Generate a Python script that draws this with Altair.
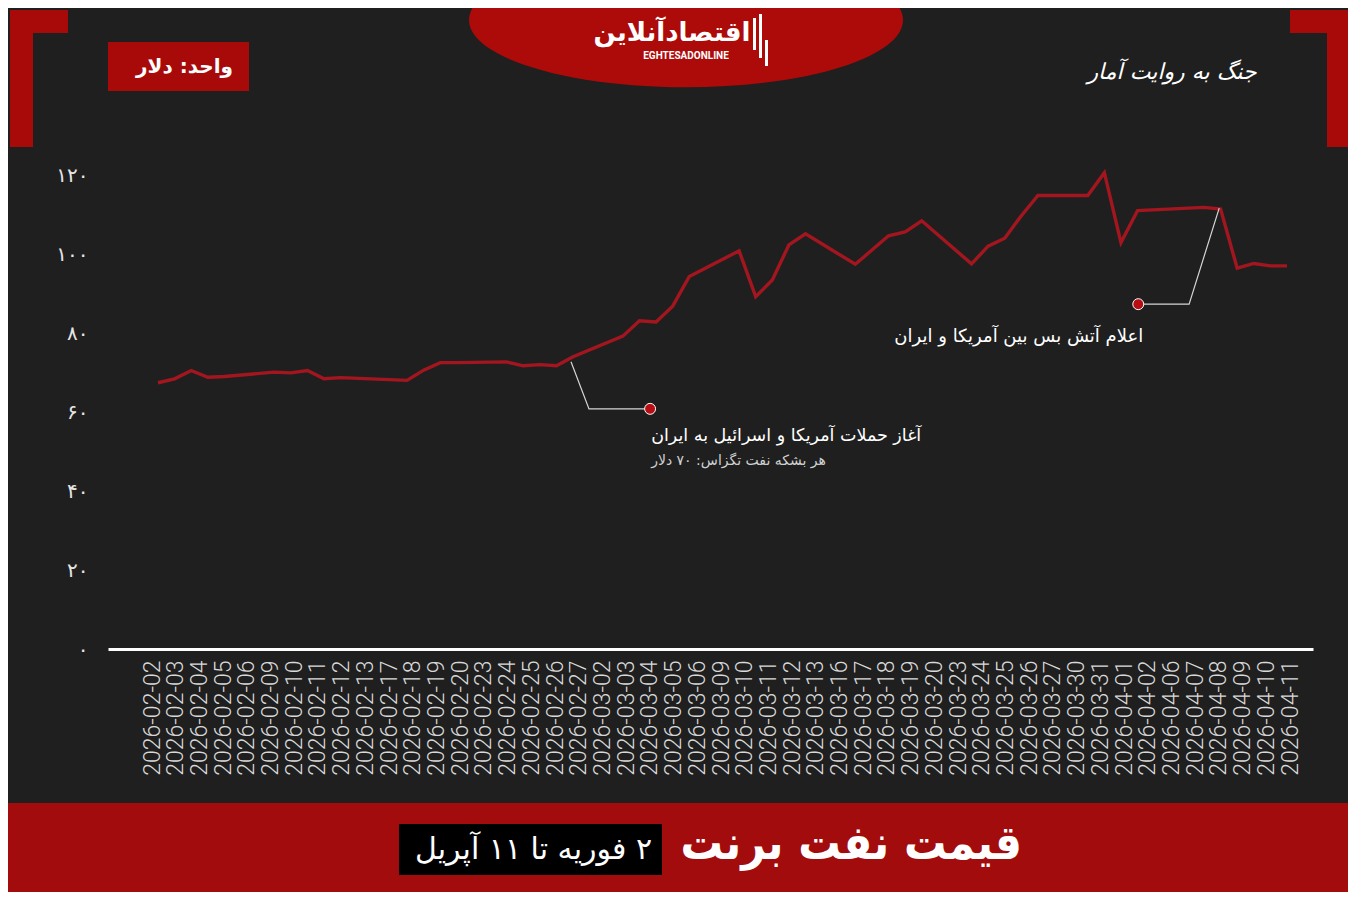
import altair as alt
import pandas as pd

# ---------------- data ----------------
price_dates = [
    "2026-02-02", "2026-02-03", "2026-02-04", "2026-02-05", "2026-02-06",
    "2026-02-09", "2026-02-10", "2026-02-11", "2026-02-12", "2026-02-13",
    "2026-02-17", "2026-02-18", "2026-02-19", "2026-02-20",
    "2026-02-23", "2026-02-24", "2026-02-25", "2026-02-26", "2026-02-27",
    "2026-03-02", "2026-03-03", "2026-03-04", "2026-03-05", "2026-03-06",
    "2026-03-09", "2026-03-10", "2026-03-11", "2026-03-12", "2026-03-13",
    "2026-03-16", "2026-03-17", "2026-03-18", "2026-03-19", "2026-03-20",
    "2026-03-23", "2026-03-24", "2026-03-25", "2026-03-26", "2026-03-27",
    "2026-03-30", "2026-03-31",
    "2026-04-01", "2026-04-02", "2026-04-06", "2026-04-07", "2026-04-08",
    "2026-04-09", "2026-04-10", "2026-04-11",
]
brent_usd = [
    67.4, 68.4, 70.5, 68.8, 69.0,
    70.1, 69.9, 70.5, 68.4, 68.7,
    68.0, 70.6, 72.5, 72.5,
    72.7, 71.7, 72.0, 71.7, 74.0,
    79.2, 83.1, 82.8, 86.8, 94.3,
    100.8, 89.2, 93.4, 102.3, 105.1,
    97.4, 101.0, 104.6, 105.6, 108.4,
    97.5, 102.0, 104.0, 109.7, 114.8,
    114.8, 120.6,
    102.9, 111.0, 111.8, 111.4, 96.4,
    97.6, 97.0, 97.0,
]
y_ticks = [0, 20, 40, 60, 80, 100, 120]
y_tick_labels = ["۰", "۲۰", "۴۰", "۶۰", "۸۰", "۱۰۰", "۱۲۰"]

# annotation leaders (time, value)
strike_leader_times = ["2026-02-26 21:00", "2026-02-27 23:00", "2026-03-03 15:20"]
strike_leader_values = [72.7, 60.8, 60.8]
ceasefire_leader_times = ["2026-04-02 01:00", "2026-04-05 02:30", "2026-04-06 22:00"]
ceasefire_leader_values = [87.3, 87.3, 111.6]

strike_texts = ["آغاز حملات آمریکا و اسرائیل به ایران", "هر بشکه نفت تگزاس: ۷۰ دلار"]
strike_text_times = ["2026-03-03 16:50", "2026-03-03 16:50"]
strike_text_values = [53.9, 47.6]
ceasefire_text = "اعلام آتش بس بین آمریکا و ایران"
ceasefire_text_time = "2026-04-02 08:10"
ceasefire_text_value = 79.0

RLM = "\u200f"
unit_text = "واحد: دلار"
title_text = "قیمت نفت برنت"
subtitle_text = RLM + "۲ فوریه تا ۱۱ آپریل"
logo_fa = "اقتصادآنلاین"
logo_en = "EGHTESADONLINE"
series_text = "جنگ به روایت آمار"

# ---------------- helpers ----------------
T0 = pd.Timestamp("2026-02-02")


def day_of(times):
    return [(pd.Timestamp(t) - T0) / pd.Timedelta(days=1) for t in times]


BG = "#1f1f1f"
RED = "#a80a0a"
LINE_RED = "#a3161f"
FA = "DejaVu Sans"

W, H = 1205, 474
OX, OY = 108, 175  # page position of plot origin


def px(X):
    return X - OX


def py(Y):
    return Y - OY


one = pd.DataFrame({"k": [0]})


def rect(x0, x1, y0, y1, color):
    return alt.Chart(one).mark_rect(color=color).encode(
        x=alt.value(px(x0)), x2=alt.value(px(x1)),
        y=alt.value(py(y0)), y2=alt.value(py(y1)))


def label(X, Y, s, size, align="center", weight="normal", color="white",
          font=FA, style="normal"):
    return alt.Chart(one).mark_text(
        text=s, fontSize=size, align=align, baseline="middle",
        fontWeight=weight, color=color, font=font, fontStyle=style
    ).encode(x=alt.value(px(X)), y=alt.value(py(Y)))


# ---------------- scales ----------------
xs = alt.Scale(domain=[-3.012, 69.566], nice=False, zero=False)
ys = alt.Scale(domain=[0, 120], nice=False, zero=True)

y_label_expr = " : ".join(
    f"datum.value == {v} ? '{t}'" for v, t in zip(y_ticks, y_tick_labels)
) + " : ''"

df = pd.DataFrame({"day": day_of(price_dates), "price": brent_usd})

line = alt.Chart(df).mark_line(color=LINE_RED, strokeWidth=3.4,
                               strokeJoin="miter").encode(
    x=alt.X("day:Q", scale=xs,
            axis=alt.Axis(labels=False, ticks=False, grid=False, title=None,
                          domain=True, domainColor="white", domainWidth=3)),
    y=alt.Y("price:Q", scale=ys,
            axis=alt.Axis(values=y_ticks, labelExpr=y_label_expr, title=None,
                          ticks=False, domain=False, grid=False,
                          labelFont=FA, labelFontSize=20, labelColor="#e6e6e6",
                          labelPadding=20)),
)

leaders = pd.DataFrame({
    "day": day_of(strike_leader_times) + day_of(ceasefire_leader_times),
    "val": strike_leader_values + ceasefire_leader_values,
    "grp": ["a"] * 3 + ["b"] * 3,
    "ord": [0, 1, 2, 0, 1, 2],
})
leader_lines = alt.Chart(leaders).mark_line(color="#d6d6d6", strokeWidth=1.2).encode(
    x=alt.X("day:Q", scale=xs), y=alt.Y("val:Q", scale=ys),
    detail="grp:N", order="ord:Q")

dots_df = pd.DataFrame({
    "day": [day_of(strike_leader_times)[-1], day_of(ceasefire_leader_times)[0]],
    "val": [strike_leader_values[-1], ceasefire_leader_values[0]],
})
dots = alt.Chart(dots_df).mark_point(
    filled=True, fill="#b80d12", stroke="white", strokeWidth=1, size=120, opacity=1
).encode(x=alt.X("day:Q", scale=xs), y=alt.Y("val:Q", scale=ys))

ann_left = pd.DataFrame({
    "day": day_of(strike_text_times), "val": strike_text_values, "txt": strike_texts,
})
ann1 = alt.Chart(ann_left.iloc[[0]]).mark_text(
    align="left", baseline="middle", font=FA, fontSize=17.5, color="white"
).encode(x=alt.X("day:Q", scale=xs), y=alt.Y("val:Q", scale=ys), text="txt:N")
ann2 = alt.Chart(ann_left.iloc[[1]]).mark_text(
    align="left", baseline="middle", font=FA, fontSize=14, color="#d0d0d0"
).encode(x=alt.X("day:Q", scale=xs), y=alt.Y("val:Q", scale=ys), text="txt:N")
ann3 = alt.Chart(pd.DataFrame({"day": day_of([ceasefire_text_time]),
                               "val": [ceasefire_text_value],
                               "txt": [ceasefire_text]})).mark_text(
    align="right", baseline="middle", font=FA, fontSize=18, color="white"
).encode(x=alt.X("day:Q", scale=xs), y=alt.Y("val:Q", scale=ys), text="txt:N")

plot = alt.layer(line, leader_lines, dots, ann1, ann2, ann3)

# evenly spaced category labels along the bottom (index scale)
n_lab = len(price_dates)
lab_df = pd.DataFrame({"idx": list(range(n_lab)), "lab": price_dates})
x_label_expr = "[" + ",".join(f"'{d}'" for d in price_dates) + "][datum.value]"
labels_layer = alt.Chart(lab_df).mark_point(opacity=0).encode(
    x=alt.X("idx:Q",
            scale=alt.Scale(domain=[-1.856, n_lab - 1 + 0.97], nice=False, zero=False),
            axis=alt.Axis(orient="bottom", values=list(range(n_lab)),
                          labelExpr=x_label_expr, labelAngle=270, title=None,
                          ticks=False, domain=False, grid=False, labelFont="Roboto",
                          labelFontSize=23, labelFontWeight=300,
                          labelColor="#d8d8d8", labelPadding=11,
                          labelOverlap=False, labelBound=False, labelFlush=False)))

# ---------------- decorations ----------------
ellipse = alt.Chart(one).mark_point(
    shape="M -1 0 A 1 0.31 0 1 0 1 0 A 1 0.31 0 1 0 -1 0 Z",
    filled=True, fill="#ad0a0a", opacity=1, strokeWidth=0, size=434 * 434
).encode(x=alt.value(px(686)), y=alt.value(py(20)))

decor_top = [
    rect(10, 33, 10, 147, RED), rect(10, 68, 10, 33, RED),
    rect(1327, 1350, 10, 147, RED), rect(1290, 1350, 10, 33, RED),
    ellipse,
    label(672, 33, logo_fa, 26, weight="bold"),
    label(686, 56, logo_en, 10, weight="bold", font="Roboto"),
    rect(753, 756, 18, 50, "white"), rect(759, 762, 14, 58, "white"),
    rect(765, 768, 40, 66, "white"),
    rect(108, 249, 42, 91, RED),
    label(233, 67, unit_text, 20, align="right", weight="bold"),
    label(1172, 72, series_text, 22, style="italic"),
]

decor_bottom = [
    rect(0, 1360, 803, 906, "#a30c0c"),
    label(1022, 845, title_text, 47, align="right", weight="bold",
          font="DejaVu Sans Condensed"),
    rect(399, 662, 824, 875, "#000000"),
    label(652, 850, subtitle_text, 30, align="right"),
]

chart = alt.layer(
    *decor_top, plot, labels_layer, *decor_bottom
).resolve_scale(x="independent").properties(
    width=W, height=H,
    padding={"left": 100, "top": 167, "right": 35, "bottom": 243},
    autosize=alt.AutoSizeParams(type="none"),
).configure(background=BG).configure_view(stroke=None)

chart.save("out.html", embed_options={"renderer": "svg", "actions": False})
